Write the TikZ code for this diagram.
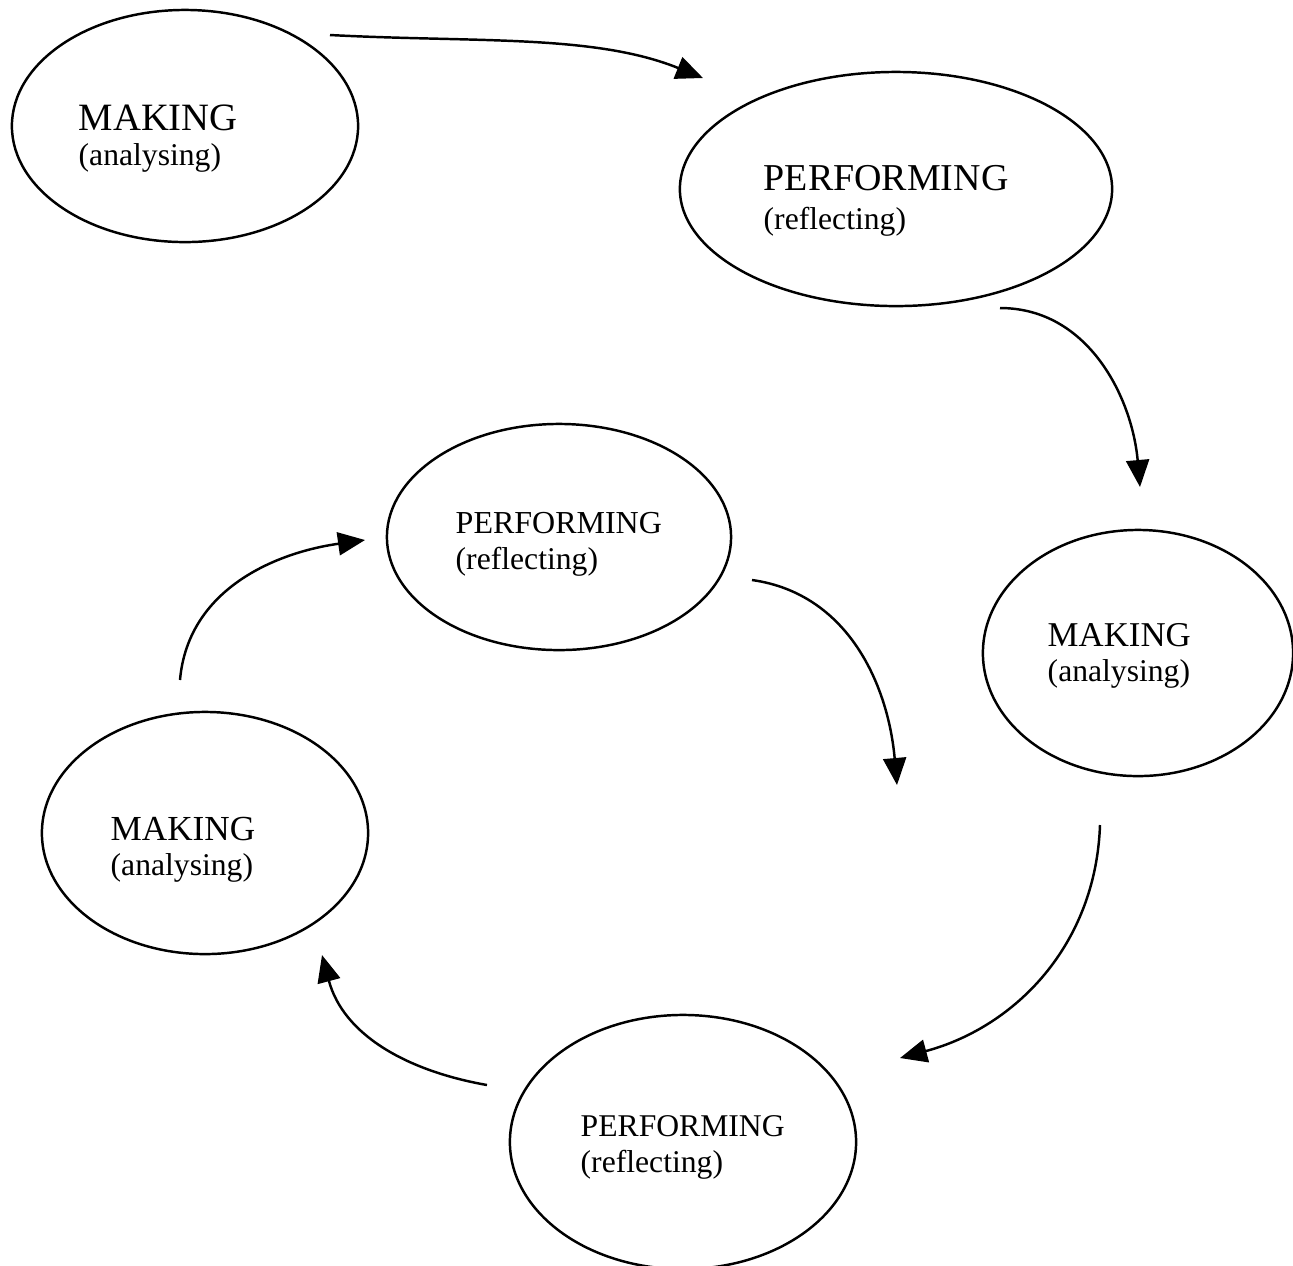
\documentclass[tikz,border=0pt]{standalone}
\usepackage{fontspec}
\setmainfont{Liberation Serif}
\usetikzlibrary{arrows.meta,shapes.geometric}

\newcommand{\subline}[1]{{\fontsize{9}{9}\selectfont #1}}

\tikzset{
	stage/.style={draw, ellipse, line width=0.7pt, inner sep=0pt},
	caption/.style={anchor=north west, inner sep=0pt, align=left},
	link/.style={line width=0.7pt, -{Triangle[length=0.27cm, width=0.23cm]}},
}

\begin{document}
\begin{tikzpicture}[x=0.01cm, y=0.01cm]
			\useasboundingbox (0,0) rectangle (1293,-1265);
			
			\node[stage, minimum width=3.46cm, minimum height=2.32cm] (m1) at (185, -126) {};
			\node[stage, minimum width=4.32cm, minimum height=2.34cm] (p1) at (896, -189) {};
			\node[stage, minimum width=3.10cm, minimum height=2.46cm] (m2) at (1138, -653) {};
			\node[stage, minimum width=3.44cm, minimum height=2.26cm] (p2) at (559, -537) {};
			\node[stage, minimum width=3.26cm, minimum height=2.42cm] (m3) at (205, -833) {};
			\node[stage, minimum width=3.46cm, minimum height=2.54cm] (p3) at (683, -1142) {};
			
			\node[caption, font=\fontsize{11}{10}\selectfont] (t1) at (78, -104) {MAKING\\\subline{(analysing)}};
			\node[caption, font=\fontsize{10.8}{11.1}\selectfont] (t2) at (763, -165) {PERFORMING\\\subline{(reflecting)}};
			\node[caption, font=\fontsize{9.9}{9.9}\selectfont] (t3) at (1047, -623) {MAKING\\\subline{(analysing)}};
			\node[caption, font=\fontsize{9.1}{10.2}\selectfont] (t4) at (455, -512) {PERFORMING\\\subline{(reflecting)}};
			\node[caption, font=\fontsize{10}{10}\selectfont] (t5) at (110, -816) {MAKING\\\subline{(analysing)}};
			\node[caption, font=\fontsize{9}{10.2}\selectfont] (t6) at (580, -1115) {PERFORMING\\\subline{(reflecting)}};
			
			\coordinate (a1s) at (330, -35);    \coordinate (a1e) at (703, -78);
			\coordinate (a2s) at (1000, -308);  \coordinate (a2e) at (1140, -487);
			\coordinate (a3s) at (1100, -825);  \coordinate (a3e) at (900, -1058);
			\coordinate (a4s) at (487, -1085);  \coordinate (a4e) at (322, -955);
			\coordinate (a5s) at (180, -680);   \coordinate (a5e) at (365, -540);
			\coordinate (a6s) at (752, -580);   \coordinate (a6e) at (897, -785);
			
			\def\flow {a1s/a1e/-3/158/0.8, a2s/a2e/0/95/1, a3s/a3e/-92/15/1, a4s/a4e/170/-75/1, a5s/a5e/85/188/1, a6s/a6e/-8/95/1}  % curved arrows
			\foreach \u/\v/\o/\i/\l in \flow
			{	\draw[link] (\u) to[out=\o, in=\i, in looseness=\l] (\v);}
		\end{tikzpicture}
\end{document}
